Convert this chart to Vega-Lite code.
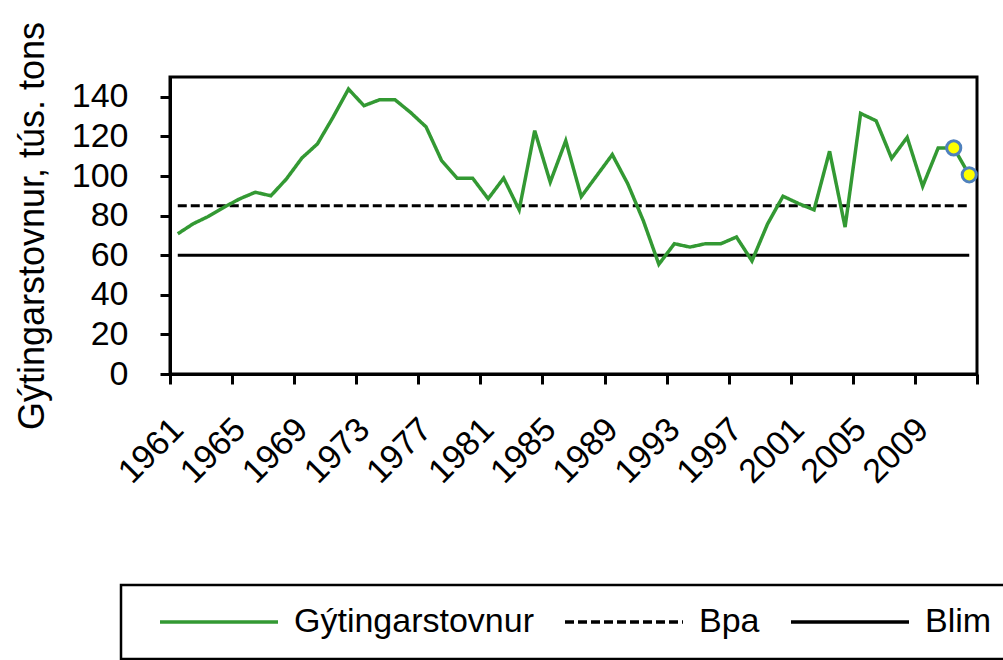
{
  "$schema": "https://vega.github.io/schema/vega-lite/v6.json",
  "width": 807,
  "height": 297,
  "autosize": {"type": "none"},
  "padding": {"left": 170, "top": 77, "right": 26, "bottom": 286},
  "background": "white",
  "datasets": {
    "refs": [
      {"series": "Bpa", "year": 1961, "value": 85},
      {"series": "Bpa", "year": 2012, "value": 85},
      {"series": "Blim", "year": 1961, "value": 60},
      {"series": "Blim", "year": 2012, "value": 60}
    ],
    "stock": [
      {"series": "Gýtingarstovnur", "year": 1961, "value": 70.8},
      {"series": "Gýtingarstovnur", "year": 1962, "value": 75.9},
      {"series": "Gýtingarstovnur", "year": 1963, "value": 79.7},
      {"series": "Gýtingarstovnur", "year": 1964, "value": 84.3},
      {"series": "Gýtingarstovnur", "year": 1965, "value": 88.5},
      {"series": "Gýtingarstovnur", "year": 1966, "value": 91.8},
      {"series": "Gýtingarstovnur", "year": 1967, "value": 90.0},
      {"series": "Gýtingarstovnur", "year": 1968, "value": 98.5},
      {"series": "Gýtingarstovnur", "year": 1969, "value": 109.1},
      {"series": "Gýtingarstovnur", "year": 1970, "value": 116.2},
      {"series": "Gýtingarstovnur", "year": 1971, "value": 129.6},
      {"series": "Gýtingarstovnur", "year": 1972, "value": 143.9},
      {"series": "Gýtingarstovnur", "year": 1973, "value": 135.5},
      {"series": "Gýtingarstovnur", "year": 1974, "value": 138.5},
      {"series": "Gýtingarstovnur", "year": 1975, "value": 138.5},
      {"series": "Gýtingarstovnur", "year": 1976, "value": 132.1},
      {"series": "Gýtingarstovnur", "year": 1977, "value": 124.8},
      {"series": "Gýtingarstovnur", "year": 1978, "value": 107.8},
      {"series": "Gýtingarstovnur", "year": 1979, "value": 98.9},
      {"series": "Gýtingarstovnur", "year": 1980, "value": 98.9},
      {"series": "Gýtingarstovnur", "year": 1981, "value": 88.5},
      {"series": "Gýtingarstovnur", "year": 1982, "value": 98.9},
      {"series": "Gýtingarstovnur", "year": 1983, "value": 82.9},
      {"series": "Gýtingarstovnur", "year": 1984, "value": 122.9},
      {"series": "Gýtingarstovnur", "year": 1985, "value": 96.9},
      {"series": "Gýtingarstovnur", "year": 1986, "value": 117.8},
      {"series": "Gýtingarstovnur", "year": 1987, "value": 89.6},
      {"series": "Gýtingarstovnur", "year": 1988, "value": 100.2},
      {"series": "Gýtingarstovnur", "year": 1989, "value": 110.8},
      {"series": "Gýtingarstovnur", "year": 1990, "value": 96.0},
      {"series": "Gýtingarstovnur", "year": 1991, "value": 77.4},
      {"series": "Gýtingarstovnur", "year": 1992, "value": 55.4},
      {"series": "Gýtingarstovnur", "year": 1993, "value": 65.8},
      {"series": "Gýtingarstovnur", "year": 1994, "value": 64.1},
      {"series": "Gýtingarstovnur", "year": 1995, "value": 65.8},
      {"series": "Gýtingarstovnur", "year": 1996, "value": 65.8},
      {"series": "Gýtingarstovnur", "year": 1997, "value": 69.2},
      {"series": "Gýtingarstovnur", "year": 1998, "value": 57.1},
      {"series": "Gýtingarstovnur", "year": 1999, "value": 75.7},
      {"series": "Gýtingarstovnur", "year": 2000, "value": 89.8},
      {"series": "Gýtingarstovnur", "year": 2001, "value": 86.1},
      {"series": "Gýtingarstovnur", "year": 2002, "value": 82.9},
      {"series": "Gýtingarstovnur", "year": 2003, "value": 112.5},
      {"series": "Gýtingarstovnur", "year": 2004, "value": 74.2},
      {"series": "Gýtingarstovnur", "year": 2005, "value": 131.6},
      {"series": "Gýtingarstovnur", "year": 2006, "value": 127.9},
      {"series": "Gýtingarstovnur", "year": 2007, "value": 108.9},
      {"series": "Gýtingarstovnur", "year": 2008, "value": 119.5},
      {"series": "Gýtingarstovnur", "year": 2009, "value": 94.8},
      {"series": "Gýtingarstovnur", "year": 2010, "value": 114.2},
      {"series": "Gýtingarstovnur", "year": 2011, "value": 114.2},
      {"series": "Gýtingarstovnur", "year": 2012, "value": 100.6}
    ],
    "highlight": [
      {"year": 2011, "value": 114.2},
      {"year": 2012, "value": 100.6}
    ]
  },
  "encoding": {
    "x": {
      "field": "year",
      "type": "quantitative",
      "title": null,
      "scale": {"domain": [1960.5, 2012.5], "nice": false, "zero": false},
      "axis": {
        "values": [1960.5, 1964.5, 1968.5, 1972.5, 1976.5, 1980.5, 1984.5, 1988.5, 1992.5, 1996.5, 2000.5, 2004.5, 2008.5, 2012.5],
        "labelExpr": "datum.value > 2010 ? '' : format(datum.value + 0.5, 'd')",
        "labelAngle": -45,
        "labelAlign": "right",
        "labelBaseline": "middle",
        "labelOffset": 7.8,
        "labelPadding": 40,
        "labelOverlap": false,
        "labelFlush": false,
        "labelBound": false,
        "grid": false
      }
    },
    "y": {
      "field": "value",
      "type": "quantitative",
      "title": "Gýtingarstovnur, tús. tons",
      "scale": {"domain": [0, 150], "nice": false, "zero": true},
      "axis": {
        "values": [0, 20, 40, 60, 80, 100, 120, 140],
        "labelPadding": 32,
        "titlePadding": 20,
        "titleFontSize": 36,
        "grid": false
      }
    }
  },
  "layer": [
    {
      "data": {"name": "refs"},
      "mark": {"type": "line", "strokeWidth": 3},
      "encoding": {
        "color": {
          "field": "series", "type": "nominal", "title": null,
          "scale": {"domain": ["Gýtingarstovnur", "Bpa", "Blim"], "range": ["#339933", "#000000", "#000000"]},
          "legend": {"orient": "none", "legendX": -49, "legendY": 508, "direction": "horizontal", "title": null}
        },
        "strokeDash": {
          "field": "series", "type": "nominal", "title": null,
          "scale": {"domain": ["Gýtingarstovnur", "Bpa", "Blim"], "range": [[1, 0], [9, 4], [1, 0]]},
          "legend": {"orient": "none", "legendX": -49, "legendY": 508, "direction": "horizontal", "title": null}
        }
      }
    },
    {
      "data": {"name": "stock"},
      "mark": {"type": "line", "strokeWidth": 3.5},
      "encoding": {
        "color": {
          "field": "series", "type": "nominal", "title": null,
          "scale": {"domain": ["Gýtingarstovnur", "Bpa", "Blim"], "range": ["#339933", "#000000", "#000000"]},
          "legend": {"orient": "none", "legendX": -49, "legendY": 508, "direction": "horizontal", "title": null}
        },
        "strokeDash": {
          "field": "series", "type": "nominal", "title": null,
          "scale": {"domain": ["Gýtingarstovnur", "Bpa", "Blim"], "range": [[1, 0], [9, 4], [1, 0]]},
          "legend": {"orient": "none", "legendX": -49, "legendY": 508, "direction": "horizontal", "title": null}
        }
      }
    },
    {
      "data": {"name": "highlight"},
      "mark": {"type": "point", "shape": "circle", "filled": true, "fill": "#FFFF00", "stroke": "#4F81BD", "strokeWidth": 3, "size": 200, "opacity": 1}
    }
  ],
  "config": {
    "font": "Liberation Sans",
    "view": {"stroke": "#000000", "strokeWidth": 3},
    "axis": {
      "labelFont": "Liberation Sans",
      "labelFontSize": 34,
      "labelColor": "#000000",
      "titleFont": "Liberation Sans",
      "titleFontSize": 36,
      "titleFontWeight": "normal",
      "titleColor": "#000000",
      "domainColor": "#000000",
      "domainWidth": 3,
      "tickColor": "#000000",
      "tickWidth": 3,
      "tickSize": 10
    },
    "legend": {
      "strokeColor": "#000000",
      "strokeWidth": 2.5,
      "fillColor": "#FFFFFF",
      "padding": 19,
      "symbolOffset": 18,
      "symbolSize": 13924,
      "symbolStrokeWidth": 3.5,
      "symbolType": "stroke",
      "clipHeight": 36,
      "labelFont": "Liberation Sans",
      "labelFontSize": 34,
      "labelColor": "#000000",
      "labelLimit": 400,
      "labelOffset": 14,
      "columnPadding": 11
    }
  }
}
